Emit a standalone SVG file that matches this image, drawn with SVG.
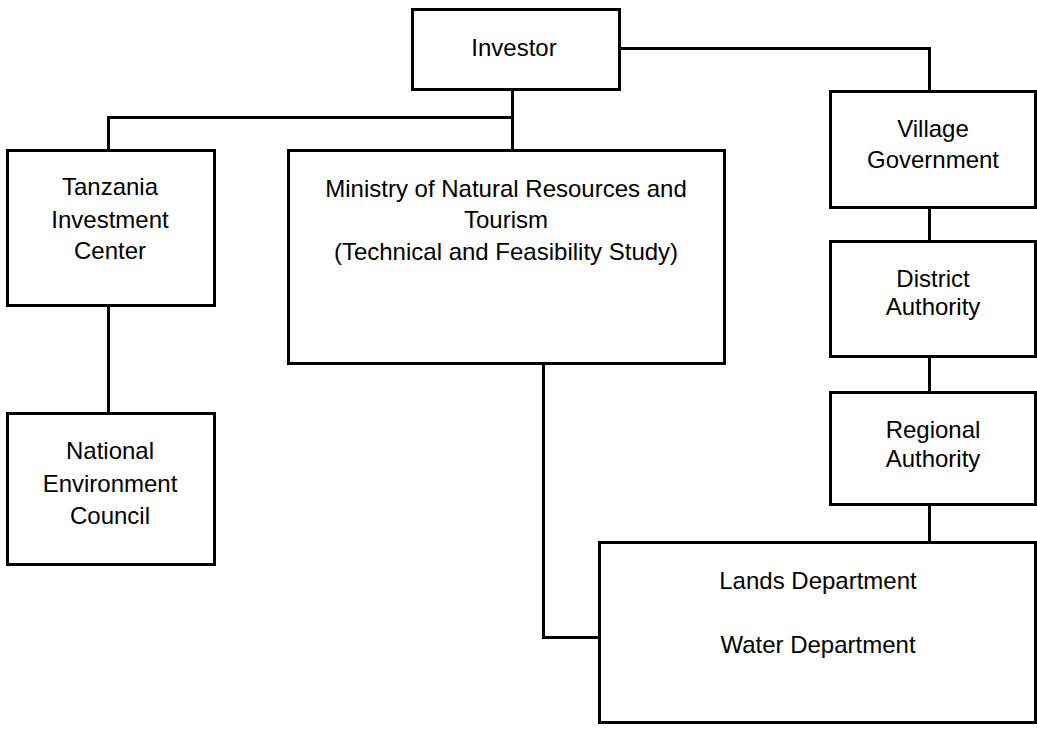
<svg xmlns="http://www.w3.org/2000/svg" width="1037" height="732" viewBox="0 0 1037 732">
<style>
.box{fill:#fff;stroke:#000;stroke-width:3}
.con{fill:none;stroke:#000;stroke-width:3}
text{font-family:"Liberation Sans",Arial,sans-serif;font-size:24px;fill:#000;text-anchor:middle}
</style>
<rect width="1037" height="732" fill="#fff"/>
<g id="connectors">
<path class="con" d="M512.5 89.5V150M512.5 117.5H108.5V150"/>
<path class="con" d="M619 48.5H929.5V91"/>
<path class="con" d="M929.5 208V241"/>
<path class="con" d="M929.5 357V392"/>
<path class="con" d="M929.5 505V542"/>
<path class="con" d="M108.5 306V413"/>
<path class="con" d="M543.5 364V637.5H599"/>
</g>
<g id="investor">
<rect class="box" x="412.5" y="9.5" width="207" height="80"/>
<text x="514" y="56">Investor</text>
</g>
<g id="tic">
<rect class="box" x="7.5" y="150.5" width="207" height="155"/>
<text x="110" y="195">Tanzania</text>
<text x="110" y="228">Investment</text>
<text x="110" y="259">Center</text>
</g>
<g id="ministry">
<rect class="box" x="288.5" y="150.5" width="436" height="213"/>
<text x="506" y="197">Ministry of Natural Resources and</text>
<text x="506" y="228">Tourism</text>
<text x="506" y="260">(Technical and Feasibility Study)</text>
</g>
<g id="nec">
<rect class="box" x="7.5" y="413.5" width="207" height="151"/>
<text x="110" y="459">National</text>
<text x="110" y="492">Environment</text>
<text x="110" y="524">Council</text>
</g>
<g id="village">
<rect class="box" x="830.5" y="91.5" width="205" height="116"/>
<text x="933" y="137">Village</text>
<text x="933" y="168">Government</text>
</g>
<g id="district">
<rect class="box" x="830.5" y="241.5" width="205" height="115"/>
<text x="933" y="287">District</text>
<text x="933" y="315">Authority</text>
</g>
<g id="regional">
<rect class="box" x="830.5" y="392.5" width="205" height="112"/>
<text x="933" y="438">Regional</text>
<text x="933" y="467">Authority</text>
</g>
<g id="lands">
<rect class="box" x="599.5" y="542.5" width="436" height="180"/>
<text x="818" y="589">Lands Department</text>
<text x="818" y="653">Water Department</text>
</g>
</svg>
